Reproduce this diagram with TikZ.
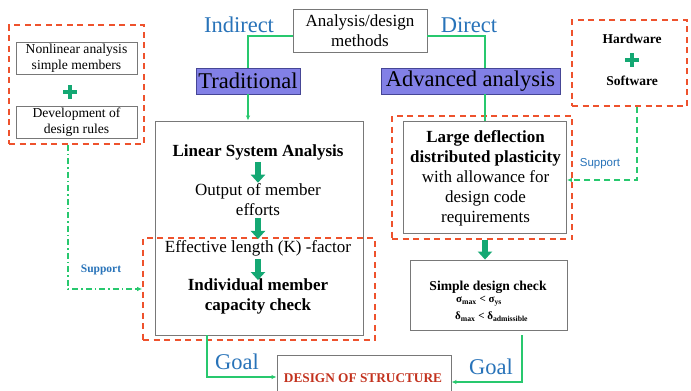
\documentclass[tikz,border=0pt]{standalone}
\usepackage{fontspec}
\setmainfont{Liberation Serif}
\newfontfamily\supsans{Liberation Sans}
\usetikzlibrary{arrows.meta}
\definecolor{boxgray}{RGB}{120,120,120}
\definecolor{dred}{RGB}{238,82,45}
\definecolor{lgreen}{RGB}{40,200,110}
\definecolor{tgreen}{RGB}{20,168,115}
\definecolor{tblue}{RGB}{40,115,185}
\definecolor{purp}{RGB}{130,128,230}
\definecolor{purpedge}{RGB}{70,70,150}
\definecolor{dsred}{RGB}{195,50,30}
\tikzset{
  gbox/.style={draw=boxgray, line width=0.9pt, fill=white, inner sep=0pt, align=center},
  rdashbox/.style={draw=dred, line width=1.6pt, dash pattern=on 6pt off 4.5pt, inner sep=0pt},
  conn/.style={draw=lgreen, line width=1.4pt},
  tipped/.style={-{Latex[length=5pt,width=4.5pt]}},
  bigarr/.style={draw=tgreen, line width=6pt, -{Triangle[length=8pt,width=14pt]}},
  blab/.style={text=tblue, inner sep=0pt, font=\fontsize{22.5}{24}\selectfont},
  body/.style={inner sep=0pt, align=center, font=\fontsize{17}{20}\selectfont},
  bodyb/.style={inner sep=0pt, align=center, font=\bfseries\fontsize{17}{20}\selectfont},
  smalltext/.style={inner sep=0pt, align=center, font=\fontsize{13.6}{16}\selectfont},
  smallbold/.style={inner sep=0pt, align=center, font=\bfseries\fontsize{13.6}{16}\selectfont},
  formula/.style={inner sep=0pt, anchor=west, font=\bfseries\fontsize{11}{12}\selectfont},
  purpbox/.style={draw=purpedge, fill=purp, line width=0.8pt, inner sep=0pt, minimum height=26pt, font=\fontsize{22.5}{24}\selectfont},
  plussign/.style={draw=tgreen, line width=4pt},
  supa/.style={draw=lgreen, line width=1.3pt, dash pattern=on 6pt off 3pt on 1.5pt off 3pt},
  supb/.style={draw=lgreen, line width=1.3pt, dash pattern=on 6pt off 4pt},
}
\begin{document}
\begin{tikzpicture}[x=1pt,y=-1pt]
\clip (0,0) rectangle (691,391);
\fill[white] (0,0) rectangle (691,391);

% boxes
\node[gbox, body, minimum width=134pt, minimum height=43pt] (methods) at (360,30.5) {Analysis/design\\methods};
\node[blab] (indirect) at (239,25) {Indirect};
\node[blab] (direct) at (469,25) {Direct};
\node[purpbox, minimum width=104pt] (trad) at (248,81) {Traditional};
\node[purpbox, minimum width=179pt] (adv) at (470.5,81) {Advanced analysis};

\node[gbox, minimum width=208pt, minimum height=214pt] (lbox) at (259,228) {};
\node[gbox, minimum width=163pt, minimum height=112pt] (rbox) at (485,177) {};
\node[gbox, minimum width=157pt, minimum height=70pt] (simple) at (488.5,295) {};
\node[gbox, smalltext, minimum width=121pt, minimum height=32pt] (nonlin) at (76.5,58) {Nonlinear analysis\\simple members};
\node[gbox, smalltext, minimum width=121pt, minimum height=32pt] (devel) at (76.5,122) {Development of\\design rules};
\node[gbox, minimum width=174pt, minimum height=46pt] (design) at (364,378) {};

% dashed red frames
\node[rdashbox, minimum width=135pt, minimum height=119pt] (ldash) at (76.5,84.5) {};
\node[rdashbox, minimum width=232pt, minimum height=102pt] (lowdash) at (259,289) {};
\node[rdashbox, minimum width=180pt, minimum height=123pt] (rdbox) at (482,177.5) {};
\node[rdashbox, minimum width=115pt, minimum height=86pt] (hwbox) at (629.5,63) {};

% plus signs
\draw[plussign] (70,85) -- (70,99);
\draw[plussign] (63,92) -- (77,92);
\draw[plussign] (632,53) -- (632,67);
\draw[plussign] (625,60) -- (639,60);

% texts in left box
\node[bodyb] (t1) at (258,152) {Linear System Analysis};
\node[body] (t2) at (258,200) {Output of member\\efforts};
\node[body] (t3) at (258,248) {Effective length (K) -factor};
\node[bodyb] (t4) at (258,296) {Individual member\\capacity check};

% text in right box
\node[body] (rtext) at (485.5,178) {\textbf{Large deflection}\\\textbf{distributed plasticity}\\with allowance for\\design code\\requirements};

% simple check
\node[smallbold] (s1) at (488,287) {Simple design check};
\node[formula] (s2) at (456,301) {σ\textsubscript{max} < σ\textsubscript{ys}};
\node[formula] (s3) at (455,317) {δ\textsubscript{max} < δ\textsubscript{admissible}};

% hardware
\node[inner sep=0pt, font=\bfseries\fontsize{13.5}{15}\selectfont] (hw) at (632,39) {Hardware};
\node[inner sep=0pt, font=\bfseries\fontsize{13.5}{15}\selectfont] (sw) at (632,81) {Software};

% design of structure
\node[inner sep=0pt, text=dsred, font=\bfseries\fontsize{13.3}{15}\selectfont] (dtext) at (363,378) {DESIGN OF STRUCTURE};

% thick arrows
\draw[bigarr] ([yshift=-2pt]t1.south) -- ([yshift=1pt]t2.north);
\draw[bigarr] ([yshift=-2pt]t2.south) -- ([yshift=1pt]t3.north);
\draw[bigarr] ([yshift=-3pt]t3.south) -- ([yshift=-2pt]t4.north);
\draw[bigarr] (rdbox.south -| rbox.south) -- (simple.north -| rbox.south);

% connectors
\draw[conn] ([yshift=-5.5pt]methods.west) -| (trad.north);
\draw[conn, tipped] (trad.south) -- (trad.south |- lbox.north);
\draw[conn] ([yshift=-5.5pt]methods.east) -| ([xshift=14.5pt]adv.north);
\draw[conn] ([xshift=14.5pt]adv.south) -- (rbox.north);

% support
\draw[supa, tipped] ([xshift=-8.5pt]ldash.south) |- (lowdash.west);
\node[inner sep=0pt, text=tblue, font=\bfseries\fontsize{11.5}{12}\selectfont] (supl) at (101,270) {Support};
\draw[supb, tipped] ([xshift=7.5pt]hwbox.south) |- ([yshift=-3pt]rbox.east);
\node[inner sep=0pt, text=tblue, font=\supsans\fontsize{11.5}{12}\selectfont] (supr) at (600,164) {Support};

% goal
\draw[conn, tipped] ([xshift=-52pt]lbox.south) |- ([yshift=1pt]design.west);
\node[blab] (goall) at (237,362) {Goal};
\draw[conn, tipped] ([xshift=33.5pt,yshift=-5pt]simple.south) |- ([yshift=-4pt]design.east);
\node[blab] (goalr) at (491,367) {Goal};
\end{tikzpicture}
\end{document}
